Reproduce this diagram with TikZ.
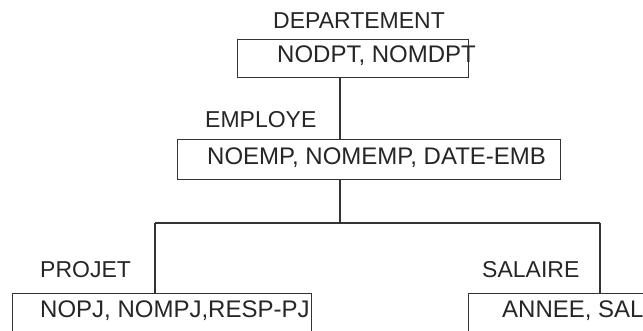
\documentclass[tikz,border=0pt]{standalone}
\usepackage{fontspec}
\setmainfont{Liberation Sans}
\begin{document}
\begin{tikzpicture}[x=1pt,y=-1pt,
  line/.style={draw=black!80,line width=1.2pt},
  table/.style={line,rectangle,inner sep=0pt,anchor=north west},
  label/.style={anchor=base west,inner sep=0pt,text=black!85,font=\fontsize{23}{27}\selectfont},
  attr/.style={label,font=\fontsize{24}{28}\selectfont}]
  \useasboundingbox (0,0) rectangle (643,331);
  \fill[white] (0,0) rectangle (643,331);

  % entity boxes
  \node[table,minimum width=231pt,minimum height=38pt] (dept) at (237,39) {};
  \node[table,minimum width=383pt,minimum height=40pt] (emp) at (177,139) {};
  \node[table,minimum width=299pt,minimum height=40pt] (proj) at (12,293) {};
  \node[table,minimum width=200pt,minimum height=40pt] (sal) at (468,293) {};

  % entity names and attributes
  \node[label] (deptname) at (273,29) {DEPARTEMENT};
  \node[attr]  (deptattr) at (277,63) {NODPT, NOMDPT};
  \node[label] (empname)  at (205,128) {EMPLOYE};
  \node[attr]  (empattr)  at (207,165) {NOEMP, NOMEMP, DATE-EMB};
  \node[label] (projname) at (40,278) {PROJET};
  \node[attr]  (projattr) at (40,318) {NOPJ, NOMPJ,RESP-PJ};
  \node[label] (salname)  at (482,278) {SALAIRE};
  \node[attr]  (salattr)  at (502,318) {ANNEE, SAL};

  % hierarchy links
  \coordinate (trunk) at (340,223);
  \coordinate (left)  at (155,223);
  \coordinate (right) at (600,223);
  \draw[line] (dept.south -| trunk) -- (emp.north -| trunk);
  \draw[line] (emp.south -| trunk) -- (trunk);
  \draw[line] (left) -- (right);
  \draw[line] (left) -- (proj.north -| left);
  \draw[line] (right) -- (sal.north -| right);
\end{tikzpicture}
\end{document}
